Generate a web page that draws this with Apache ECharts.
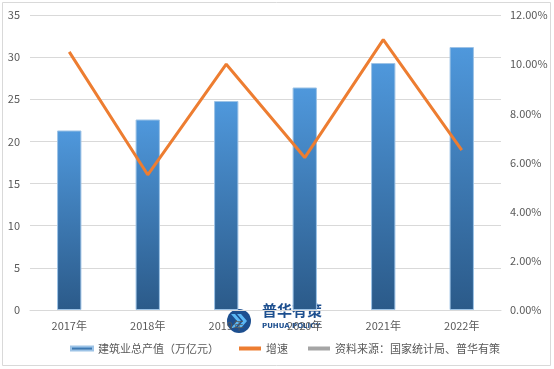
<!DOCTYPE html>
<html>
<head>
<meta charset="utf-8">
<script src="https://cdn.jsdelivr.net/npm/echarts@6/dist/echarts.min.js"></script>
<style>
html,body{margin:0;padding:0;background:#fff;}
#chart{width:554px;height:369px;}
</style>
</head>
<body>
<div id="chart"></div>
<script>
var categories = ['2017年','2018年','2019年','2020年','2021年','2022年'];
var outputValues = [21.3, 22.6, 24.8, 26.4, 29.3, 31.2];
var growthRates = [0.105, 0.055, 0.100, 0.062, 0.110, 0.065];
var barName = '建筑业总产值（万亿元）';
var lineName = '增速';
var sourceName = '资料来源：国家统计局、普华有策';

var font = '"Noto Sans CJK SC", "Microsoft YaHei", sans-serif';
var chart = echarts.init(document.getElementById('chart'));
var option = {
  backgroundColor: '#ffffff',
  animation: false,
  textStyle: {fontFamily: font},
  grid: {left: 30, right: 53, top: 15, bottom: 59},
  legend: {
    bottom: 10,
    left: 65,
    itemGap: 20,
    itemWidth: 22,
    itemHeight: 4,
    textStyle: {color: '#595959', fontSize: 11, fontFamily: font},
    data: [
      {name: barName, icon: 'rect'},
      {name: lineName, icon: 'rect'},
      {name: sourceName, icon: 'rect'}
    ]
  },
  xAxis: {
    type: 'category',
    data: categories,
    axisTick: {show: false},
    axisLine: {lineStyle: {color: '#d9d9d9'}},
    axisLabel: {color: '#595959', fontSize: 11, margin: 10}
  },
  yAxis: [
    {
      type: 'value', min: 0, max: 35, interval: 5,
      axisLine: {show: false}, axisTick: {show: false},
      axisLabel: {color: '#595959', fontSize: 11, margin: 10},
      splitLine: {lineStyle: {color: '#d9d9d9'}}
    },
    {
      type: 'value', min: 0, max: 0.12, interval: 0.02,
      axisLine: {show: false}, axisTick: {show: false},
      axisLabel: {color: '#595959', fontSize: 11, margin: 9,
        formatter: function (v) { return (v * 100).toFixed(2) + '%'; }},
      splitLine: {show: false}
    }
  ],
  series: [
    {
      name: barName,
      type: 'bar',
      data: outputValues,
      barWidth: '31%',
      itemStyle: {
        color: new echarts.graphic.LinearGradient(0, 0, 0, 1, [
          {offset: 0, color: '#4f98dc'},
          {offset: 1, color: '#2b5a89'}
        ]),
        borderColor: '#9dc3e6',
        borderWidth: 1
      }
    },
    {
      name: lineName,
      type: 'line',
      yAxisIndex: 1,
      data: growthRates,
      symbol: 'none',
      lineStyle: {color: '#ed7d31', width: 3},
      itemStyle: {color: '#ed7d31'}
    },
    {
      name: sourceName,
      type: 'line',
      yAxisIndex: 1,
      data: [],
      symbol: 'none',
      lineStyle: {color: '#a5a5a5', width: 3},
      itemStyle: {color: '#a5a5a5'}
    }
  ],
  graphic: [
    {type: 'rect', shape: {x: 2.5, y: 2.5, width: 548, height: 363},
     style: {fill: 'none', stroke: '#d9d9d9', lineWidth: 1}, z: -1},
    {type: 'group', left: 227, top: 309, children: [
      {type: 'circle', shape: {cx: 12, cy: 12, r: 12}, style: {fill: '#1d4f8f'}},
      {type: 'polygon', shape: {points: [[4,5],[8,5],[14,12],[8,19],[4,19],[10,12]]}, style: {fill: '#5cb8f5'}},
      {type: 'polygon', shape: {points: [[10,5],[14,5],[20,12],[14,19],[10,19],[16,12]]}, style: {fill: '#5cb8f5'}}
    ]},
    {type: 'text', left: 262, top: 303, style: {text: '普华有策', font: 'bold 15px "Noto Sans CJK SC"', fill: '#1d4f8f'}},
    {type: 'text', left: 262, top: 323, style: {text: 'PUHUA POLICY', font: 'bold 7px "DejaVu Sans"', fill: '#1d4f8f'}}
  ]
};
chart.setOption(option);
</script>
</body>
</html>
